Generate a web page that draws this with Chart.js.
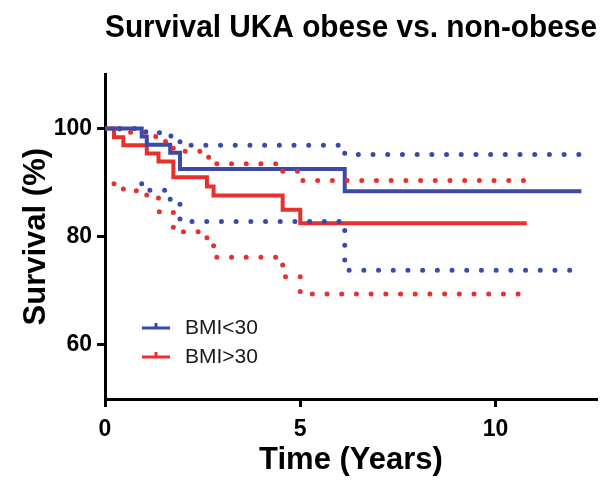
<!DOCTYPE html>
<html>
<head>
<meta charset="utf-8">
<script src="https://cdn.jsdelivr.net/npm/chart.js@4.4.0/dist/chart.umd.min.js"></script>
<style>
    body { margin: 0; background: #fff; }
    #wrap { width: 612px; height: 484px; }
</style>
</head>
<body>
<div id="wrap"><canvas id="survivalChart" width="612" height="484"></canvas></div>
<script>
// Kaplan-Meier steps (time in years, survival in %)
const blueTimes = [0, 0.94, 1.07, 1.67, 1.92, 6.14, 12.2];
const blueSurv  = [100, 98.5, 97.0, 95.5, 92.5, 88.4, 88.4];
const blueUpper = [100, 99.4, 99.2, 98.6, 96.9, 95.2, 95.2];
// lower band starts at the first event
const blueLower = [89.8, 88.6, 86.3, 82.8, 73.8, 73.8];

const redTimes = [0, 0.23, 0.47, 1.07, 1.37, 1.75, 2.61, 2.78, 4.55, 5.0, 10.8];
const redSurv  = [100, 98.4, 96.9, 95.4, 93.9, 91.0, 89.3, 87.6, 85.0, 82.5, 82.5];
const redUpper = [100, 99.9, 99.3, 98.5, 97.6, 95.8, 94.7, 93.5, 92.1, 90.4, 90.4];
const redLower = [89.8, 88.5, 87.6, 84.6, 80.9, 78.6, 76.2, 72.6, 69.4, 69.4];

const seriesNames = ['BMI<30', 'BMI>30'];
const xTicks = [0, 5, 10];
const yTicks = [60, 80, 100];

const BLUE = '#3a4aa6';
const RED = '#e8302c';
const FONT = "'Liberation Sans', Arial, Helvetica, sans-serif";

function toPoints(times, values) {
    return values.map((v, i) => ({ x: times[i], y: v }));
}

function solidLine(label, times, values, color) {
    return {
        label: label,
        data: toPoints(times, values),
        borderColor: color,
        borderWidth: 4,
        stepped: true,
        pointRadius: 0,
        fill: false,
        order: 2
    };
}

function dottedLine(label, times, values, color) {
    return {
        label: label,
        data: toPoints(times, values),
        borderColor: color,
        borderWidth: 5,
        borderDash: [0, 14.7],
        borderCapStyle: 'round',
        stepped: true,
        pointRadius: 0,
        fill: false,
        order: 1
    };
}

// Legend drawn inside the plot, lower left, like the original
const kmLegend = {
    id: 'kmLegend',
    afterDraw(chart) {
        const ctx = chart.ctx;
        const items = [
            { text: seriesNames[0], color: BLUE, y: 328 },
            { text: seriesNames[1], color: RED, y: 357 }
        ];
        ctx.save();
        items.forEach(item => {
            ctx.strokeStyle = item.color;
            ctx.lineWidth = 3;
            ctx.beginPath();
            ctx.moveTo(142, item.y);
            ctx.lineTo(170, item.y);
            ctx.moveTo(156, item.y);
            ctx.lineTo(156, item.y - 5);
            ctx.stroke();
            ctx.fillStyle = '#1a1a1a';
            ctx.font = '21px ' + FONT;
            ctx.textBaseline = 'middle';
            ctx.fillText(item.text, 185, item.y);
        });
        ctx.restore();
    }
};

const axisGrid = {
    drawOnChartArea: false,
    drawTicks: true,
    tickLength: 8,
    tickWidth: 3,
    color: '#000'
};

new Chart(document.getElementById('survivalChart'), {
    type: 'line',
    data: {
        datasets: [
            dottedLine(seriesNames[0] + ' upper', blueTimes, blueUpper, BLUE),
            dottedLine(seriesNames[0] + ' lower', blueTimes.slice(1), blueLower, BLUE),
            dottedLine(seriesNames[1] + ' upper', redTimes, redUpper, RED),
            dottedLine(seriesNames[1] + ' lower', redTimes.slice(1), redLower, RED),
            solidLine(seriesNames[0], blueTimes, blueSurv, BLUE),
            solidLine(seriesNames[1], redTimes, redSurv, RED)
        ]
    },
    options: {
        responsive: false,
        animation: false,
        devicePixelRatio: 1,
        layout: { padding: { left: 0, right: 15, top: 0, bottom: 0 } },
        plugins: {
            legend: { display: false },
            tooltip: { enabled: false },
            title: {
                display: true,
                text: 'Survival UKA obese vs. non-obese',
                fullSize: false,
                color: '#000',
                font: { family: FONT, size: 32, weight: 'bold' },
                padding: { top: 9, bottom: 27 }
            }
        },
        scales: {
            x: {
                type: 'linear',
                min: 0,
                max: 12.6,
                afterBuildTicks: scale => { scale.ticks = xTicks.map(v => ({ value: v })); },
                afterFit: scale => { scale.height = 85; },
                grid: axisGrid,
                border: { display: true, width: 3, color: '#000' },
                ticks: {
                    color: '#000',
                    padding: 9,
                    font: { family: FONT, size: 23, weight: 'bold' }
                },
                title: {
                    display: true,
                    text: 'Time (Years)',
                    color: '#000',
                    font: { family: FONT, size: 31, weight: 'bold' },
                    padding: { top: 0, bottom: 5 }
                }
            },
            y: {
                min: 50,
                max: 110,
                afterBuildTicks: scale => { scale.ticks = yTicks.map(v => ({ value: v })); },
                afterFit: scale => { scale.width = 105; },
                grid: axisGrid,
                border: { display: true, width: 3, color: '#000' },
                ticks: {
                    color: '#000',
                    padding: 5,
                    font: { family: FONT, size: 23, weight: 'bold' }
                },
                title: {
                    display: true,
                    text: 'Survival (%)',
                    color: '#000',
                    font: { family: FONT, size: 31, weight: 'bold' },
                    padding: { top: 18, bottom: 0 }
                }
            }
        }
    },
    plugins: [kmLegend]
});
</script>
</body>
</html>
